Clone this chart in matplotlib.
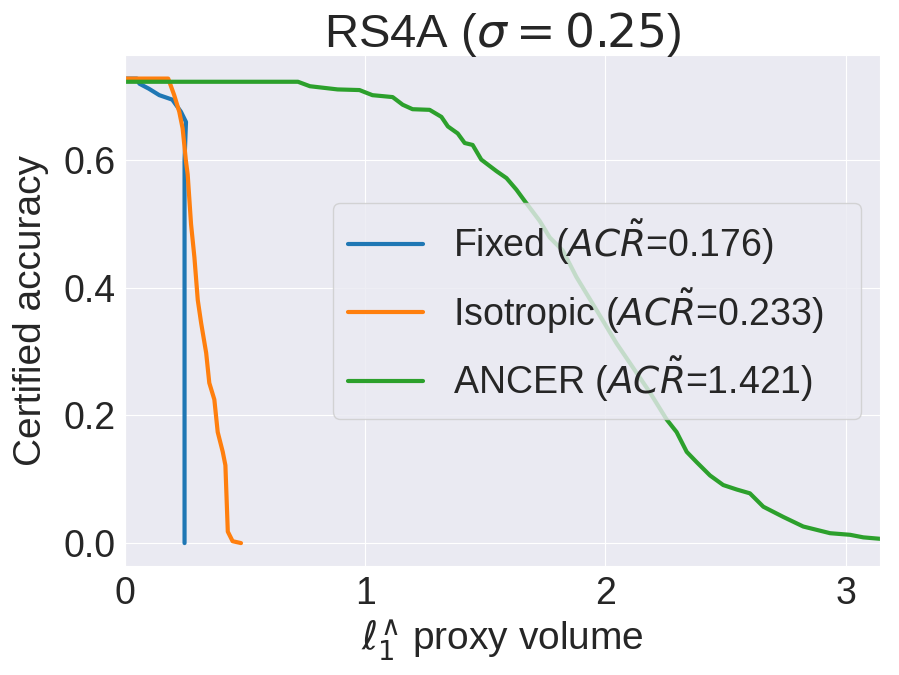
import matplotlib
matplotlib.use("Agg")
import matplotlib.pyplot as plt
import seaborn as sns

sns.set_style("darkgrid")
plt.rcParams['font.family'] = ['Liberation Sans', 'DejaVu Sans']

# Fixed sigma
fixed_x = [0.0, 0.05, 0.06, 0.10, 0.143, 0.197, 0.233, 0.254, 0.248, 0.248]
fixed_y = [0.728, 0.728, 0.720, 0.712, 0.702, 0.695, 0.676, 0.660, 0.600, 0.0]

# Isotropic
iso_x = [0.0, 0.18, 0.205, 0.226, 0.24, 0.254, 0.261, 0.275, 0.289, 0.303, 0.317,
         0.338, 0.351, 0.372, 0.386, 0.407, 0.418, 0.423, 0.428, 0.448, 0.483]
iso_y = [0.728, 0.728, 0.702, 0.676, 0.650, 0.598, 0.578, 0.500, 0.448, 0.381, 0.345,
         0.298, 0.251, 0.225, 0.174, 0.143, 0.122, 0.070, 0.018, 0.003, 0.0]

# ANCER
ancer_x = [0.0, 0.72, 0.77, 0.885, 0.976, 1.03, 1.114, 1.156, 1.197, 1.268, 1.317,
           1.344, 1.385, 1.414, 1.447, 1.483, 1.546, 1.588, 1.629, 1.664, 1.726,
           1.768, 1.823, 1.879, 1.963, 2.046, 2.129, 2.185, 2.254, 2.296, 2.338,
           2.379, 2.435, 2.490, 2.546, 2.601, 2.657, 2.740, 2.823, 2.935, 3.018,
           3.073, 3.143]
ancer_y = [0.723, 0.723, 0.716, 0.711, 0.710, 0.702, 0.699, 0.687, 0.680, 0.679, 0.668,
           0.653, 0.642, 0.627, 0.624, 0.601, 0.583, 0.572, 0.554, 0.536, 0.505,
           0.479, 0.458, 0.417, 0.365, 0.313, 0.267, 0.236, 0.194, 0.174, 0.143,
           0.127, 0.106, 0.091, 0.084, 0.078, 0.057, 0.041, 0.026, 0.0155, 0.013,
           0.009, 0.0067]

# trailing spaces give the wider legend box of the original
labels = [r"Fixed ($AC\tilde{R}$=0.176)   ",
          r"Isotropic ($AC\tilde{R}$=0.233)   ",
          r"ANCER ($AC\tilde{R}$=1.421)   "]

fig, ax = plt.subplots(figsize=(8.99, 6.75), dpi=100)
fig.subplots_adjust(left=0.139, right=0.979, top=0.918, bottom=0.161)

ax.plot(fixed_x, fixed_y, color='#1f77b4', lw=3, label=labels[0])
ax.plot(iso_x, iso_y, color='#ff7f0e', lw=3, label=labels[1])
ax.plot(ancer_x, ancer_y, color='#2ca02c', lw=3, label=labels[2])

ax.set_xlim(0, 3.143)
ax.set_xticks([0, 1, 2, 3])
ax.set_yticks([0.0, 0.2, 0.4, 0.6])
ax.tick_params(labelsize=27)
ax.set_xlabel(r"$\ell_1^{\wedge}$ proxy volume", fontsize=28)
ax.set_ylabel("Certified accuracy", fontsize=28, labelpad=10)
ax.set_title(r"RS4A ($\sigma = 0.25$)", fontsize=34)
ax.legend(loc="center right", fontsize=27)

plt.savefig("out.png", dpi=100)
